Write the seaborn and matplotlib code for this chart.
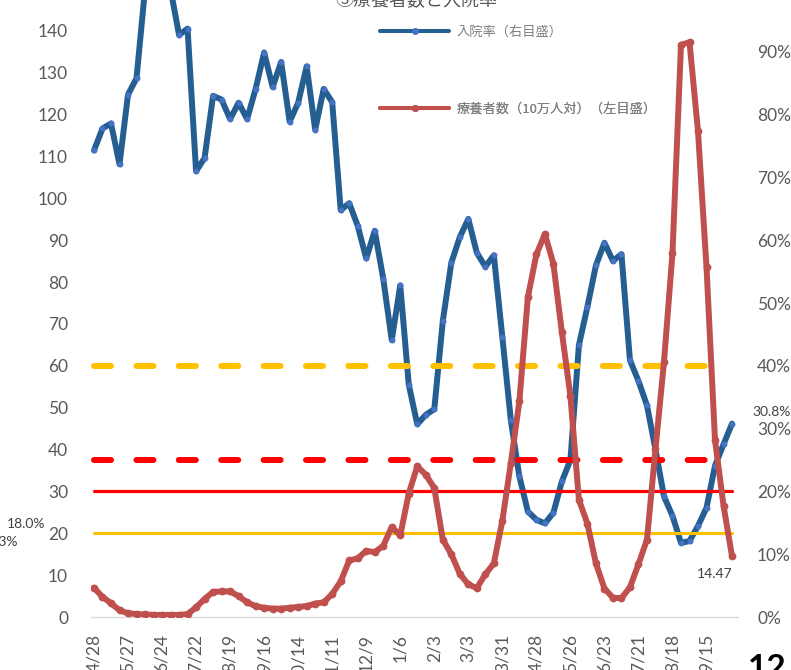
import matplotlib

# no display here, render straight to a file
matplotlib.use("Agg")
import matplotlib.pyplot as plt
import seaborn as sns
import pandas as pd
from matplotlib.lines import Line2D

W, H, DPI = 791, 670, 100

# weekly points, labelled every 4 weeks
week_idx = list(range(76))
tick_pos = list(range(0, 76, 4))
tick_labels = ["4/28", "5/27", "6/24", "7/22", "8/19", "9/16", "10/14", "11/11",
               "12/9", "1/6", "2/3", "3/3", "3/31", "4/28", "5/26", "6/23",
               "7/21", "8/18", "9/15"]

# 入院率 (%), right axis
hosp_rate = [74.3, 77.8, 78.6, 72.1, 83.2, 85.8, 100, 100, 100, 100,
             92.7, 93.7, 71.0, 73.1, 83.0, 82.4, 79.3, 81.9, 79.3, 84.1,
             89.9, 84.4, 88.4, 78.9, 81.9, 87.7, 77.6, 84.1, 82.0, 64.8,
             65.9, 62.3, 57.1, 61.5, 53.9, 44.1, 52.8, 37.0, 30.7, 32.2,
             33.1, 47.1, 56.4, 60.5, 63.4, 58.0, 55.8, 57.6, 44.6, 31.3,
             22.4, 16.8, 15.5, 14.9, 16.6, 21.6, 25.0, 43.3, 49.4, 56.0,
             59.6, 56.7, 57.8, 40.9, 37.6, 33.7, 26.7, 19.2, 16.1, 11.8,
             12.1, 14.5, 17.4, 24.1, 27.5, 30.8]

# 療養者数 per 100k, left axis
patients = [7.0, 4.8, 3.3, 1.6, 0.9, 0.7, 0.6, 0.5, 0.5, 0.5,
            0.5, 0.7, 2.3, 4.3, 6.0, 6.1, 6.1, 5.0, 3.5, 2.6,
            2.2, 2.0, 2.0, 2.2, 2.4, 2.6, 3.2, 3.5, 5.5, 8.5,
            13.5, 14.0, 15.8, 15.5, 17.0, 21.5, 19.5, 29.5, 36.0, 34.0,
            30.8, 18.5, 15.0, 10.3, 7.8, 6.9, 10.2, 12.8, 23.0, 36.8,
            51.5, 76.4, 86.6, 91.5, 84.4, 68.0, 52.8, 28.0, 22.3, 12.8,
            6.8, 4.6, 4.5, 7.1, 12.6, 18.5, 40.1, 60.9, 87.0, 136.7,
            137.3, 116.0, 83.5, 42.2, 26.6, 14.47]

# stage thresholds
rate_stage3, rate_stage3_end = 40, 72   # % (dashed yellow)
rate_stage4, rate_stage4_end = 25, 73   # % (dashed red)
pat_stage4 = 30                         # per 100k (solid red)
pat_stage3 = 20                         # per 100k (solid yellow)

left_ticks = list(range(0, 150, 10))
right_ticks = list(range(0, 100, 10))

BLUE, BLUE_MK = "#255E91", "#4472C4"
RED = "#C0504D"
YELLOW, BRIGHT_RED = "#FFC000", "#FF0000"
GRAY, LABEL = "#595959", "#404040"

sns.set_theme(style="white")
plt.rcParams["font.family"] = ["Noto Sans CJK JP", "DejaVu Sans"]
NUM_FONT = ["Lato", "DejaVu Sans"]

df = pd.DataFrame({"week": week_idx, "rate": hosp_rate, "patients": patients})

fig = plt.figure(figsize=(W / DPI, H / DPI), dpi=DPI)
ax = fig.add_axes([91 / W, (H - 617) / H, 647 / W, 627.9 / H])
ax2 = ax.twinx()
# left-axis artists sit on top of the blue series
ax.set_zorder(ax2.get_zorder() + 1)
ax.patch.set_visible(False)

# right axis: hospitalisation rate + its thresholds
sns.lineplot(data=df, x="week", y="rate", ax=ax2, color=BLUE, linewidth=4.3,
             marker="o", markersize=4.3, markerfacecolor=BLUE_MK,
             markeredgecolor=BLUE_MK, markeredgewidth=0,
             solid_joinstyle="round", solid_capstyle="round", legend=False, zorder=2)
ax2.plot(week_idx[:rate_stage3_end + 1], [rate_stage3] * (rate_stage3_end + 1),
         color=YELLOW, lw=4.3, ls=(0, (2.85, 4.25)), dash_capstyle="round", zorder=3)
ax2.plot(week_idx[:rate_stage4_end + 1], [rate_stage4] * (rate_stage4_end + 1),
         color=BRIGHT_RED, lw=4.3, ls=(0, (2.85, 4.25)), dash_capstyle="round", zorder=3)

# left axis: patients per 100k + its thresholds
ax.plot(week_idx, [pat_stage4] * len(week_idx), color=BRIGHT_RED, lw=2.3, zorder=2)
ax.plot(week_idx, [pat_stage3] * len(week_idx), color=YELLOW, lw=2.2, zorder=2)
sns.lineplot(data=df, x="week", y="patients", ax=ax, color=RED, linewidth=4.3,
             marker="o", markersize=5.6, markerfacecolor=RED, markeredgecolor=RED,
             markeredgewidth=0, solid_joinstyle="round", solid_capstyle="round",
             legend=False, zorder=3)

ax.set_xlim(-0.35, 75.7)
ax.set_ylim(0, 150)
ax2.set_ylim(0, 100)

ax.set_xticks(tick_pos, labels=tick_labels, rotation=90, fontfamily=NUM_FONT,
              fontsize=12.5, color=GRAY)
ax.set_yticks(left_ticks, labels=[str(v) for v in left_ticks], fontfamily=NUM_FONT,
              fontsize=12.5, color=GRAY)
ax2.set_yticks(right_ticks, labels=[f"{v}%" for v in right_ticks], fontfamily=NUM_FONT,
               fontsize=12.5, color=GRAY)
ax.tick_params(axis="x", length=0, pad=12)
ax.tick_params(axis="y", length=0, pad=16.5)
ax2.tick_params(axis="y", length=0, pad=13.7)
ax.set_xlabel("")
ax.set_ylabel("")
ax2.set_ylabel("")
ax.grid(False)
ax2.grid(False)

for side in ["left", "right", "top"]:
    ax.spines[side].set_visible(False)
for side in ["left", "right", "top", "bottom"]:
    ax2.spines[side].set_visible(False)
ax.spines["bottom"].set_color("#D9D9D9")
ax.spines["bottom"].set_linewidth(1.0)

# data labels on the last points
ax2.annotate(f"{hosp_rate[-1]:.1f}%", xy=(week_idx[-1], hosp_rate[-1]),
             xytext=(20, 12), textcoords="offset pixels", ha="left", va="center",
             fontsize=10, color=LABEL, fontfamily=NUM_FONT)
ax.annotate(f"{patients[-1]:.2f}", xy=(week_idx[-1], patients[-1]),
            xytext=(-17.6, -17.6), textcoords="offset pixels", ha="center", va="center",
            fontsize=10, color=LABEL, fontfamily=NUM_FONT)

# stray labels at the left edge
fig.text(45 / W, 1 - 524 / H, "18.0%", ha="right", va="center", fontsize=10,
         color=LABEL, fontfamily=NUM_FONT)
fig.text(18 / W, 1 - 542 / H, "13.3%", ha="right", va="center", fontsize=10,
         color=LABEL, fontfamily=NUM_FONT)

# legend, one entry per block
h_rate = Line2D([], [], color=BLUE, lw=2.9, marker="o", markersize=4,
                markerfacecolor=BLUE_MK, markeredgecolor=BLUE_MK)
h_pat = Line2D([], [], color=RED, lw=2.9, marker="o", markersize=4,
               markerfacecolor=RED, markeredgecolor=RED)
for handle, text, ypx in [(h_rate, "入院率（右目盛）", 32),
                          (h_pat, "療養者数（10万人対）（左目盛）", 109)]:
    leg = ax.legend(handles=[handle], labels=[text], loc="center left",
                    bbox_to_anchor=(380 / W, 1 - ypx / H), bbox_transform=fig.transFigure,
                    frameon=False, fontsize=9.5, handlelength=5.23, handletextpad=0.58,
                    borderpad=0, borderaxespad=0, labelcolor="#7F7F7F")
    ax.add_artist(leg)

# cropped title and page number
fig.text(335 / W, 1 - 5 / H, "③療養者数と入院率", ha="left", va="baseline",
         fontsize=13, color=GRAY)
fig.text(748 / W, 1 - 678 / H, "12", ha="left", va="baseline", fontsize=24,
         fontweight="bold", color="black", fontfamily=NUM_FONT)

fig.savefig("out.png", dpi=DPI)
plt.close(fig)
